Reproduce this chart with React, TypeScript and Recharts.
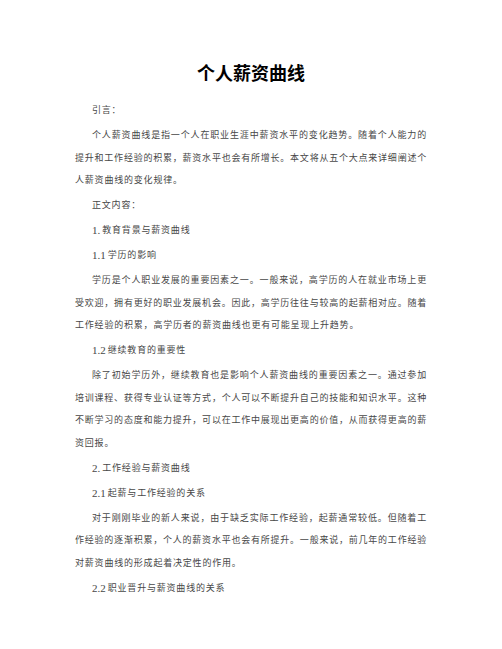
import React from 'react';
import { Surface } from 'recharts';

const title = '个人薪资曲线';

type Block = { kind: 'h' | 'p'; lines: string[] };

const introHeading = ['引言：'];
const introPara = [
  '个人薪资曲线是指一个人在职业生涯中薪资水平的变化趋势。随着个人能力的',
  '提升和工作经验的积累，薪资水平也会有所增长。本文将从五个大点来详细阐述个',
  '人薪资曲线的变化规律。',
];
const bodyHeading = ['正文内容：'];
const sec1 = ['1. 教育背景与薪资曲线'];
const sec11 = ['1.1 学历的影响'];
const para11 = [
  '学历是个人职业发展的重要因素之一。一般来说，高学历的人在就业市场上更',
  '受欢迎，拥有更好的职业发展机会。因此，高学历往往与较高的起薪相对应。随着',
  '工作经验的积累，高学历者的薪资曲线也更有可能呈现上升趋势。',
];
const sec12 = ['1.2 继续教育的重要性'];
const para12 = [
  '除了初始学历外，继续教育也是影响个人薪资曲线的重要因素之一。通过参加',
  '培训课程、获得专业认证等方式，个人可以不断提升自己的技能和知识水平。这种',
  '不断学习的态度和能力提升，可以在工作中展现出更高的价值，从而获得更高的薪',
  '资回报。',
];
const sec2 = ['2. 工作经验与薪资曲线'];
const sec21 = ['2.1 起薪与工作经验的关系'];
const para21 = [
  '对于刚刚毕业的新人来说，由于缺乏实际工作经验，起薪通常较低。但随着工',
  '作经验的逐渐积累，个人的薪资水平也会有所提升。一般来说，前几年的工作经验',
  '对薪资曲线的形成起着决定性的作用。',
];
const sec22 = ['2.2 职业晋升与薪资曲线的关系'];

const blocks: Block[] = [
  { kind: 'h', lines: introHeading },
  { kind: 'p', lines: introPara },
  { kind: 'h', lines: bodyHeading },
  { kind: 'h', lines: sec1 },
  { kind: 'h', lines: sec11 },
  { kind: 'p', lines: para11 },
  { kind: 'h', lines: sec12 },
  { kind: 'p', lines: para12 },
  { kind: 'h', lines: sec2 },
  { kind: 'h', lines: sec21 },
  { kind: 'p', lines: para21 },
  { kind: 'h', lines: sec22 },
];

const W = 502;
const H = 649;
const LEFT = 75;
const INDENT = 92;
const RIGHT = 427;
const START_Y = 110;
const LINE_GAP = 22.5;
const BLOCK_GAP = 25;

const bodyFont = "'Liberation Serif', 'Noto Sans CJK SC', serif";
const bodyStyle: React.CSSProperties = {
  fontFamily: bodyFont,
  fontSize: 9,
  letterSpacing: 0.8,
};

function renderHeading(line: string) {
  const m = line.match(/^(\d+(?:\.\d+)?\.?)\s*(.*)$/);
  if (!m) return line;
  return (
    <>
      <tspan style={{ fontSize: 11, letterSpacing: 0 }}>{m[1]}</tspan>
      <tspan dx={2}>{m[2]}</tspan>
    </>
  );
}

export default function App() {
  const items: React.ReactNode[] = [];
  let y = START_Y;
  blocks.forEach((b, bi) => {
    b.lines.forEach((line, li) => {
      const x = li === 0 ? INDENT : LEFT;
      const isFull = b.kind === 'p' && li < b.lines.length - 1;
      items.push(
        <text
          key={`${bi}-${li}`}
          x={x}
          y={y}
          dominantBaseline="central"
          fill="#474747"
          style={bodyStyle}
          {...(isFull ? { textLength: RIGHT - x, lengthAdjust: 'spacing' } : {})}
        >
          {b.kind === 'h' ? renderHeading(line) : line}
        </text>
      );
      if (li < b.lines.length - 1) y += LINE_GAP;
    });
    y += BLOCK_GAP;
  });

  return (
    <div style={{ position: 'absolute', left: 0, top: 0, width: W, height: H, background: '#fff' }}>
      <Surface width={W} height={H}>
        <rect x={0} y={0} width={W} height={H} fill="#ffffff" />
        <text
          x={W / 2}
          y={72}
          textAnchor="middle"
          dominantBaseline="central"
          fill="#000"
          style={{ fontFamily: "'Noto Sans CJK SC', sans-serif", fontSize: 18, fontWeight: 700 }}
        >
          {title}
        </text>
        {items}
      </Surface>
    </div>
  );
}
